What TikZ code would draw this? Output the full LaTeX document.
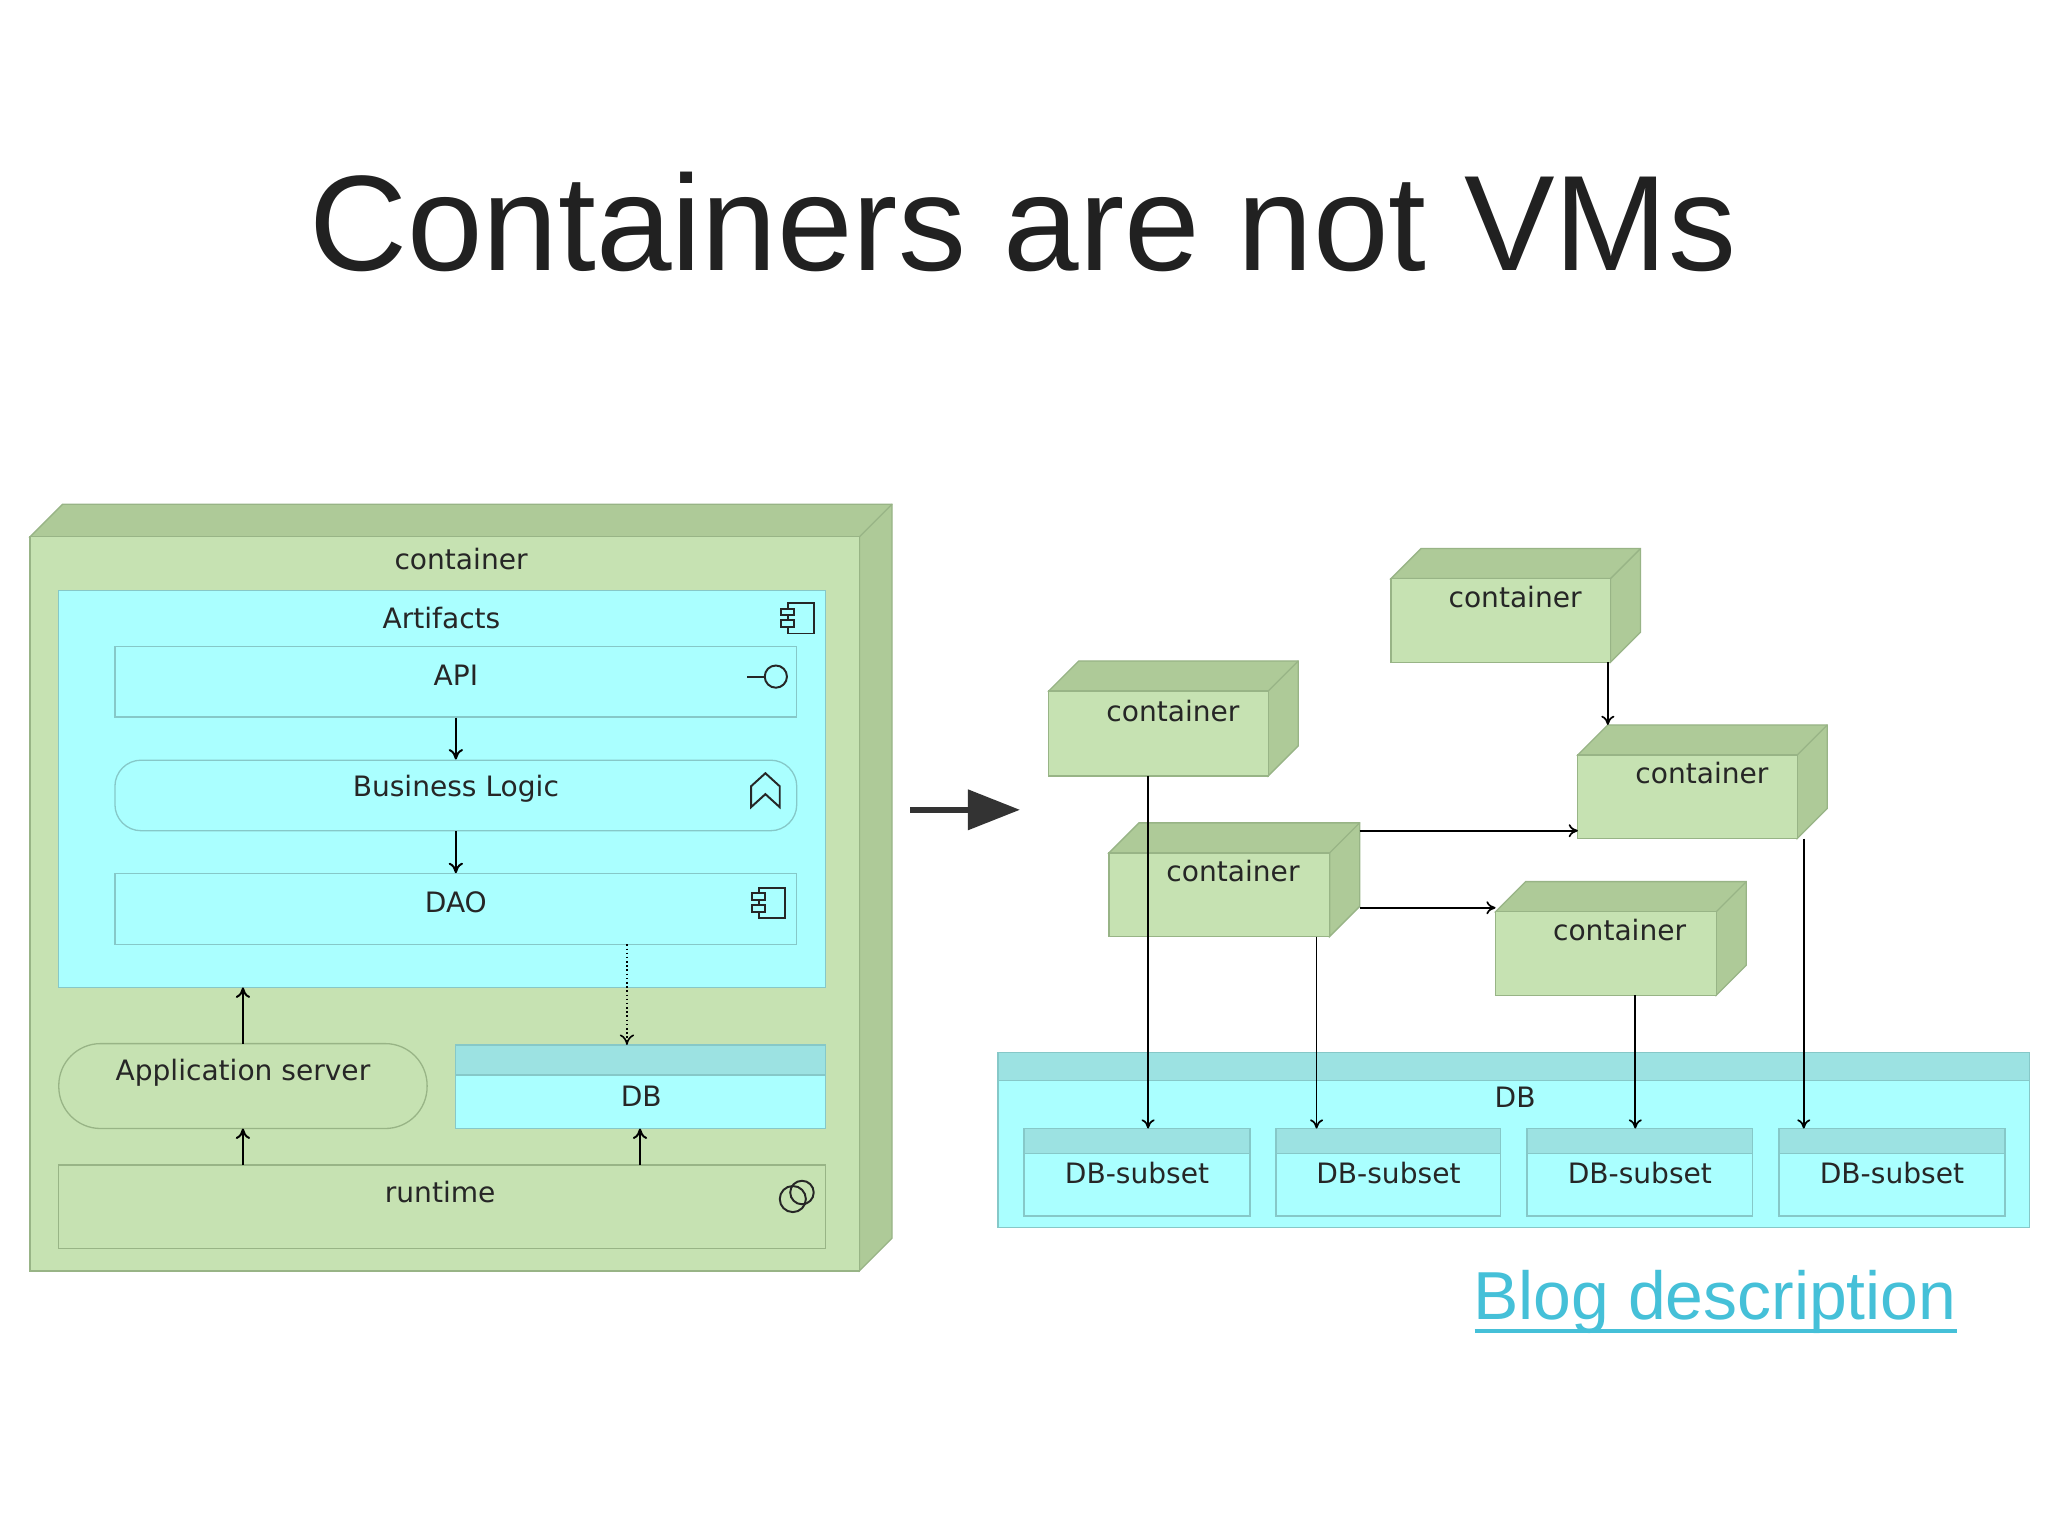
\documentclass[tikz,border=0pt]{standalone}
\usepackage{fontspec}
\setmainfont{DejaVu Sans}
\newfontfamily\titlefont{Liberation Sans}
\usetikzlibrary{arrows.meta}
\definecolor{gfront}{HTML}{C6E2B2}
\definecolor{gside}{HTML}{AECA98}
\definecolor{gline}{HTML}{98B486}
\definecolor{cyanf}{HTML}{AAFFFF}
\definecolor{cyanh}{HTML}{9CE2E2}
\definecolor{cline}{HTML}{86C8C8}
\definecolor{linkc}{HTML}{45C0D8}
\begin{document}
\begin{tikzpicture}[x=1pt,y=-1pt,
  txt/.style={font=\fontsize{21.5}{24}\selectfont,text=black!85,inner sep=0},
  cy/.style={fill=cyanf,draw=cline,line width=1pt},
  gr/.style={fill=gfront,draw=gline,line width=1pt},
  ar/.style={-{To[length=8pt,width=11pt]},line width=1.5pt},
  ico/.style={line width=1.5pt,draw=black!85}]
\useasboundingbox (0,0) rectangle (1568,1176);
\fill[white] (0,0) rectangle (1568,1176);
\node[font=\titlefont\fontsize{104}{110}\selectfont,text=black!87] (title) at (783,170) {Containers are not VMs};
\newcommand{\mybox}[6]{%
  \fill[gside,draw=gline,line width=1pt] (#2,#3) -- (#2+#6,#3-#6) -- (#4+#6,#3-#6) -- (#4+#6,#5-#6) -- (#4,#5) -- (#4,#3) -- cycle;
  \draw[gline,line width=1pt] (#4,#3) -- (#4+#6,#3-#6);
  \path[gr] (#2,#3) rectangle (#4,#5);
  \coordinate (#1) at ({(#2+#4)/2},#3);}
\mybox{L}{23}{411}{658}{973}{25}
\node[txt] (lcl) at (353,428) {container};
\path[cy] (45,452) rectangle (632,756);
\node[txt] (art) at (338,473) {Artifacts};
\node[cy,minimum width=522pt,minimum height=54pt,inner sep=0] (api) at (349,522) {};
\node[txt] at (349,517) {API};
\node[cy,rounded corners=20pt,minimum width=522pt,minimum height=54pt,inner sep=0] (bl) at (349,609) {};
\node[txt] at (349,604) {Business Logic};
\node[cy,minimum width=522pt,minimum height=54pt,inner sep=0] (dao) at (349,696) {};
\node[txt] at (349,691) {DAO};
\node[gr,rounded corners=32pt,minimum width=282pt,minimum height=65pt,inner sep=0] (as) at (186,831.5) {};
\node[txt] at (186,821) {Application server};
\node[cy,minimum width=283pt,minimum height=64pt,inner sep=0] (db) at (490.5,832) {};
\path[fill=cyanh,draw=cline,line width=1pt] (349,800) rectangle (632,823);
\node[txt] at (491,839) {DB};
\node[gr,minimum width=587pt,minimum height=64pt,inner sep=0] (rt) at (338.5,924) {};
\node[txt] at (337,913) {runtime};
\begin{scope}[ico]
 \draw (603,462) rectangle (623,485); \draw[fill=cyanf] (598,466) rectangle (608,471); \draw[fill=cyanf] (598,475) rectangle (608,480);
 \draw[fill=cyanf] (581,680) rectangle (601,703); \draw[fill=cyanf] (576,684) rectangle (586,689); \draw[fill=cyanf] (576,693) rectangle (586,698);
 \draw (572,518) -- (585,518); \draw (594,518) circle (8.5pt);
 \draw (575,618) -- (575,602) -- (586,592) -- (597,602) -- (597,618) -- (586,608) -- cycle;
 \draw (607,918) circle (10pt); \draw (614,913) circle (9pt);
\end{scope}
\draw[ar] (api.south) -- (bl.north);
\draw[ar] (bl.south) -- (dao.north);
\draw[ar] (186,892) -- (186,864);
\draw[ar] (186,799) -- (186,756);
\draw[ar] (490,892) -- (490,864);
\draw[ar,line width=1.2pt,dotted] (480,723) -- (480,800);
\draw[line width=5pt,black!80,-{Triangle[length=40pt,width=30pt]}] (697,620) -- (781,620);
\path[cy] (764,806) rectangle (1554,940);
\path[fill=cyanh,draw=cline,line width=1pt] (764,806) rectangle (1554,827);
\node[txt] (bigdb) at (1160,840) {DB};
\foreach \n/\a/\b in {1/784/957,2/977/1149,3/1169/1342,4/1362/1535}{
  \path[cy] (\a,864) rectangle (\b,931);
  \path[fill=cyanh,draw=cline,line width=1pt] (\a,864) rectangle (\b,883);
  \node[txt] (s\n) at ({(\a+\b)/2},898) {DB-subset};
}
\mybox{C2}{1065}{443}{1233}{507}{23}
\node[txt] at (1160,457) {container};
\mybox{C1}{803}{529}{971}{594}{23}
\node[txt] at (898,544) {container};
\mybox{C3}{1208}{578}{1376}{642}{23}
\node[txt] at (1303,592) {container};
\mybox{C4}{849}{653}{1018}{717}{23}
\node[txt] at (944,667) {container};
\mybox{C5}{1145}{698}{1314}{762}{23}
\node[txt] at (1240,712) {container};
\tikzset{ar2/.style={-{To[length=7pt,width=10pt]},line width=1.3pt}}
\draw[ar2] (879,594) -- (879,864);
\draw[ar2] (1008,717) -- (1008,864);
\draw[ar2] (1252,762) -- (1252,864);
\draw[ar2] (1381,642) -- (1381,864);
\draw[ar2] (1231,507) -- (1231,555);
\draw[ar2] (1041,636) -- (1208,636);
\draw[ar2] (1041,695) -- (1145,695);
\node[font=\titlefont\fontsize{52}{56}\selectfont,text=linkc,inner sep=0] (blog) at (1313,997) {Blog description};
\draw[linkc,line width=2.5pt] (1129,1019) -- (1498,1019);
\end{tikzpicture}
\end{document}
